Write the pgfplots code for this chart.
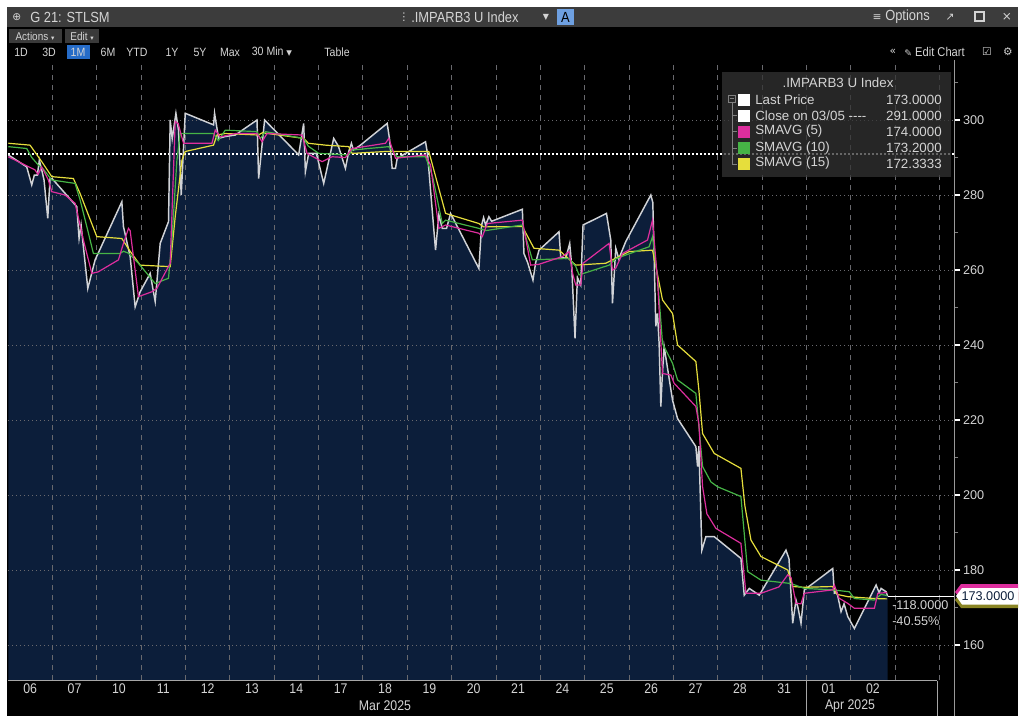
\documentclass[border=0pt]{standalone}
\usepackage{pgfplots}
\usepackage{pgfplotstable}
\pgfplotsset{compat=1.18}
\usepackage{fontspec}
\setmainfont{Liberation Sans}
\newfontfamily\bbg{Liberation Sans}[FakeStretch=0.88]
\newfontfamily\sym{DejaVu Sans}
\definecolor{navy}{RGB}{12,30,58}
\definecolor{pricel}{RGB}{208,210,214}
\definecolor{smafive}{RGB}{222,46,158}
\definecolor{smaten}{RGB}{70,180,70}
\definecolor{smafift}{RGB}{230,222,60}
\definecolor{gridc}{RGB}{105,105,110}
\definecolor{hdr}{RGB}{60,60,60}
\definecolor{txt}{RGB}{212,212,212}
\definecolor{btn}{RGB}{58,58,58}
\definecolor{selblue}{RGB}{38,108,200}
\definecolor{abtn}{RGB}{110,160,225}

% t = horizontal position on the time axis (screen units), p = price
\pgfplotstableread{
t p
8.3 290.7
26.7 287.5
31.7 282.7
34.3 285.3
37.3 285.3
39.3 289.3
41.7 286.7
44 284
47.7 273.8
50 284.4
52 284.4
76.7 276.9
79 268.4
81 272
87.7 255.1
95 262.7
121.7 278.2
123.3 271.6
130 263.6
135 250.2
140 254.2
150 259.1
155 251.6
160 267.1
168.3 272.9
170 300
172 295
175.7 301.8
178.3 297.3
181 280
185 301.8
213.3 298.7
214.3 301.8
218.3 295.1
225 295.6
235 296
256.7 300
258.3 284.4
264.3 300
298.3 290.7
303.3 299.1
305 286.2
308.3 291.1
316 291.1
323.3 283.1
333.3 295.1
338 293
345 287.1
348.3 291.6
351 293.8
353 292
360 293.3
386.7 299.1
389 295
391.7 287.1
395 287.1
396.7 289.8
425 294.2
427 291
435 265.3
438.3 274.7
441.7 271.1
446 271.1
450 275.1
478.3 260.4
481 272
483 274
485 272
488.3 274.2
491 273
521.7 276.2
523.3 264.4
527 262
532.3 257.3
535 262
538.3 265.3
558.3 270.2
560 263.5
565 263.1
569 267.1
571 261
574.3 241.8
576.7 258
580 256
582.3 272
605.7 275.1
610 268
611.7 251.1
615 265.8
618 263
625 267.6
650 280
652 278
655 245
656.7 248.4
658.3 240.4
660 223.6
661.5 232
663.3 239.6
671.7 225.3
676.7 220.4
695 212.9
696.7 207.6
698 213
701 185.3
705 188.9
713.3 188.9
740 183.1
743.3 173.3
748.3 175.1
758.3 173.3
785 185.3
788 183
791.7 165.8
795 172
797 170
800 165.8
803.3 174.7
831.7 180.4
833.3 173.8
836 174
840 168.9
843 171
846.7 167.6
853.3 164.4
875 176
878 174
880 175.1
885 174.2
886.5 173
}\price

\pgfplotstableread{
t p
8.3 290.2
25 288
35 286.7
38 285.5
41.7 287.5
48.3 284
51.7 280.9
65 280
75 277.8
83.3 268
91.7 259.1
98 259.5
118.3 262.7
123.3 267.1
128.3 271.1
130 270.5
138.3 252.9
151.7 254.2
156.7 255.1
170 261.8
175 299.6
178 299
183.3 293.8
211.7 293.8
215 297.3
220 295.5
235 296.4
256.7 296.4
261.7 294.2
266.7 296.4
301.7 296
306.7 291.1
321.7 288.9
331.7 290.2
345 290
351.7 292.4
385 293.8
388.3 295.1
395 289.8
425 290.7
430 288
438.3 271.1
445 272
478.3 269.8
481.7 268.9
486.7 272.4
521.7 273.3
530 261.3
538 261.5
561.7 263.6
568.3 264.9
572 259
575 256
580 256
582.3 261.8
608.3 267.1
611.7 260
615 260.5
621.7 264.4
646.7 268
651.7 273.3
656.7 257.3
661.7 232.4
670 232
673.3 229.8
695 223.6
698 219
701.7 202.2
706 195
715 191.1
740 187.1
745 173.8
760 173.8
778 175.5
786.7 178.7
790 178
795 171.1
800 171
803.3 173.8
831.7 174.7
833.3 176
838 172.5
846.7 171.1
853.3 169.8
873.3 169.8
876.7 173.8
886 174
}\smaA

\pgfplotstableread{
t p
8.3 292.9
26.7 292.4
31.7 290
38.3 288
43 287
51.7 284
75 283.1
80 278.7
86.7 271.6
93.3 264.4
120 264.4
123.3 265
128.3 264.5
138.3 261.8
155 256.4
168.3 257.8
171.7 268
176.7 289.3
180 296.4
213.3 296.4
218 294.5
225 297.3
256.7 296.9
260 295
265 296.9
303.3 295.1
308 293
318.3 291.1
348.3 290.7
351.7 292
388.3 292.9
396.7 290.2
425 290.2
432 285
441.7 272.4
445 273.3
478.3 271.1
485 270.5
521.7 272
531.7 262.7
568.3 263.1
575 261
578.3 258.7
608.3 261.3
615 263
625 264
648.3 266.2
651.7 268.9
656.7 258
661.7 240.4
671.7 235.1
676.7 230.7
695 227.1
701.7 207.6
710 203.5
716.7 202.2
740 199.6
746.7 179.6
760 177.3
790 176.4
803.3 175.1
831.7 174.7
848.3 174.2
853.3 172.4
873 172
880 173.5
886 173.2
}\smaB

\pgfplotstableread{
t p
8.3 293.8
30 293.3
41.7 288.9
51.7 284.9
73.3 284.4
80 280.4
96.7 268.9
121.7 268.4
130 265
140 261.3
170 260.9
175 274.2
181.7 289.3
185 291.6
213.3 293.3
216.7 296
225 296.4
258 296
262 296.6
303.3 295.1
308 293.8
325 293.3
348.3 292.9
351.7 291.1
385 291.6
428.3 291.6
435 285
445 275.1
478.3 272.4
483 271.5
521.7 271.6
533.3 265.8
558.3 265.3
575 261.3
605 261.8
628.3 264.9
651.7 265.3
655 261
661.7 252
671.7 248.4
676.7 240
695 235.6
698 228
701.7 216.4
713.3 211.1
740 207.1
744 197
750 188
760 183.6
786.7 180
791.7 175.6
803.3 175.4
831.7 175.6
836 173.5
846.7 172.9
873 172.4
886 172.3
}\smaC

\begin{document}
\begin{tikzpicture}
\begin{scope}[x=0.75pt,y=-0.75pt]
\useasboundingbox (0,0) rectangle (1024,719);
\fill[white] (0,0) rectangle (1024,719);
\fill[black] (7,7) rectangle (1018,716);
% header bar
\fill[hdr] (7,7) rectangle (1018,27);
\node[anchor=west,text=txt,font=\sym\fontsize{8}{9}\selectfont,inner sep=0] at (12,17) {⊕};
\node[anchor=west,text=txt,font=\bbg\fontsize{11}{12}\selectfont,inner sep=0] at (30,17) {G 21: STLSM};
\node[text=txt,font=\sym\fontsize{8}{9}\selectfont,inner sep=0] at (404,17) {⋮};
\node[anchor=west,text=txt,font=\bbg\fontsize{11}{12}\selectfont,inner sep=0] at (411,17) {.IMPARB3 U Index};
\node[text=txt,font=\sym\fontsize{6}{7}\selectfont,inner sep=0] at (546,17) {▼};
\fill[abtn] (557,9) rectangle (574,25);
\node[text=black,font=\bbg\fontsize{11}{12}\selectfont,inner sep=0] at (565.5,17) {A};
\node[anchor=east,text=txt,font=\bbg\fontsize{11}{12}\selectfont,inner sep=0] at (930,17) {{\sym\fontsize{8}{9}\selectfont ≡} Options};
\node[text=txt,font=\sym\fontsize{8}{9}\selectfont,inner sep=0] at (950,17) {↗};
\draw[txt,line width=0.8pt] (975,12) rectangle (984,21);
\node[text=txt,font=\sym\fontsize{9}{10}\selectfont,inner sep=0] at (1007,17) {×};
% actions row
\fill[btn] (9,29) rectangle (62,43);
\node[text=txt,font=\bbg\fontsize{8.5}{9}\selectfont,inner sep=0] at (35,36) {Actions {\sym\fontsize{5}{6}\selectfont ▾}};
\fill[btn] (65,29) rectangle (99,43);
\node[text=txt,font=\bbg\fontsize{8.5}{9}\selectfont,inner sep=0] at (82,36) {Edit {\sym\fontsize{5}{6}\selectfont ▾}};
% toolbar row
\fill[selblue] (67,45) rectangle (90,59);
\foreach \xx/\lab in {21/1D,49/3D,78/1M,108/6M,137/YTD,172/1Y,200/5Y,230/Max,337/Table}
  \node[text=txt,font=\bbg\fontsize{9}{10}\selectfont,inner sep=0] at (\xx,52) {\lab};
\node[text=txt,font=\bbg\fontsize{9}{10}\selectfont,inner sep=0] at (272,52) {30 Min {\sym\fontsize{5.5}{6}\selectfont ▼}};
\node[text=txt,font=\sym\fontsize{8}{9}\selectfont,inner sep=0] at (893,52) {«};
\node[anchor=west,text=txt,font=\bbg\fontsize{9.5}{10}\selectfont,inner sep=0] at (904,52) {{\sym\fontsize{7}{8}\selectfont ✎} Edit Chart};
\node[text=txt,font=\sym\fontsize{8}{9}\selectfont,inner sep=0] at (987,52) {☑};
\node[text=txt,font=\sym\fontsize{8}{9}\selectfont,inner sep=0] at (1008,52) {⚙};
\end{scope}

\begin{axis}[
  at={(6pt,-510pt)}, anchor=south west,
  scale only axis, width=710.25pt, height=465pt,
  xmin=0, xmax=21.35, ymin=150.67, ymax=316,
  axis line style={draw=none},
  clip=true,
  xtick={0.5,1.5,...,19.5},
  xticklabels={06,07,10,11,12,13,14,17,18,19,20,21,24,25,26,27,28,31,01,02},
  xtick style={draw=none},
  ytick={160,180,...,300},
  minor ytick={150,170,...,310},
  ytick pos=right, yticklabel pos=right,
  ytick align=outside,
  major tick length=4pt, minor tick length=2.5pt,
  ytick style={white, line width=1.2pt},
  minor y tick style={gray, line width=0.6pt},
  /pgf/number format/assume math mode=true,
  yticklabel style={font=\fontsize{9.5}{10}\selectfont, text=txt, anchor=west, xshift=-1.5pt},
  xticklabel style={font=\bbg\fontsize{10.5}{11}\selectfont, text=txt, anchor=center, yshift=-6.75pt},
]
\addplot[fill=navy, draw=none] table[x expr={(\thisrow{t}-8)/44.3}, y=p] {\price} \closedcycle;
\pgfplotsinvokeforeach{1,2,...,21}{
  \draw[gridc, dash pattern=on 3.75pt off 3.75pt, line width=0.6pt] (axis cs:#1,150.67) -- (axis cs:#1,316);
}
\pgfplotsinvokeforeach{160,180,...,300}{
  \draw[gridc, dash pattern=on 0.8pt off 2.2pt, line width=0.7pt] (axis cs:0,#1) -- (axis cs:21.35,#1);
}
\addplot[white, line width=1.4pt, dash pattern=on 1.4pt off 1.6pt] coordinates {(0,291) (21.35,291)};
\addplot[pricel, line width=1.1pt] table[x expr={(\thisrow{t}-8)/44.3}, y=p] {\price};
\addplot[smafift, line width=0.9pt] table[x expr={(\thisrow{t}-8)/44.3}, y=p] {\smaC};
\addplot[smaten, line width=0.9pt] table[x expr={(\thisrow{t}-8)/44.3}, y=p] {\smaB};
\addplot[smafive, line width=0.9pt] table[x expr={(\thisrow{t}-8)/44.3}, y=p] {\smaA};
\addplot[white, line width=0.8pt] coordinates {(19.83,173) (21.35,173)};
\end{axis}

\begin{scope}[x=0.75pt,y=-0.75pt]
% right axis line and x label area
\draw[gray!80, line width=0.8pt] (954.5,60) -- (954.5,716);
\draw[gray!70, line width=0.7pt] (8,680.5) -- (937,680.5);
\draw[gray!70, line width=0.7pt] (806,680.5) -- (806,716);
\draw[gray!70, line width=0.7pt] (937,680.5) -- (937,716);
\node[text=txt,font=\bbg\fontsize{10.5}{11}\selectfont,inner sep=0] at (385,706) {Mar 2025};
\node[text=txt,font=\bbg\fontsize{10.5}{11}\selectfont,inner sep=0] at (850,706) {Apr 2025};
% legend
\fill[black!80!white, fill opacity=0.75] (722,72) rectangle (951,177);
\node[text=txt,font=\fontsize{10}{11}\selectfont,inner sep=0] at (838,83) {.IMPARB3 U Index};
\draw[gray, line width=0.6pt] (728.5,95) rectangle (735.5,102);
\draw[gray, line width=0.6pt] (730,98.5) -- (734,98.5);
\draw[gray, line width=0.6pt] (732,102) -- (732,164) -- (737,164);
\foreach \yy in {115,131.5,148} \draw[gray, line width=0.6pt] (732,\yy) -- (737,\yy);
\fill[white] (738,93.5) rectangle (750,105.5);
\fill[white] (738,109.5) rectangle (750,121.5);
\fill[smafive] (738,125.5) rectangle (750,137.5);
\fill[smaten] (738,142) rectangle (750,154);
\fill[smafift] (738,157.5) rectangle (750,169.5);
\foreach \yy/\lab/\val in {99.5/Last Price/173.0000, 115.5/{Close on 03/05 {-}{-}{-}{-}}/291.0000, 131.5/SMAVG (5)/174.0000, 148/SMAVG (10)/173.2000, 163.5/SMAVG (15)/172.3333}{
  \node[anchor=west,text=txt,font=\fontsize{10}{11}\selectfont,inner sep=0] at (755,\yy) {\lab};
  \node[anchor=east,text=txt,font=\fontsize{10}{11}\selectfont,inner sep=0] at (942,\yy) {\val};
}
% last price tags
\fill[smafive] (955,592) -- (961,584) -- (1018,584) -- (1018,600) -- (961,600) -- cycle;
\fill[smafift!60!black] (955,600) -- (961,592) -- (1018,592) -- (1018,608) -- (961,608) -- cycle;
\fill[white] (956,596) -- (962,588) -- (1018,588) -- (1018,604.5) -- (962,604.5) -- cycle;
\node[text=navy,font=\fontsize{9.5}{10}\selectfont,inner sep=0] at (988,596.5) {173.0000};
\node[anchor=west,text=txt,font=\fontsize{9.5}{10}\selectfont,inner sep=0] at (892,605) {-118.0000};
\node[anchor=west,text=txt,font=\fontsize{9.5}{10}\selectfont,inner sep=0] at (892,621) {-40.55\%};
\end{scope}
\end{tikzpicture}
\end{document}
